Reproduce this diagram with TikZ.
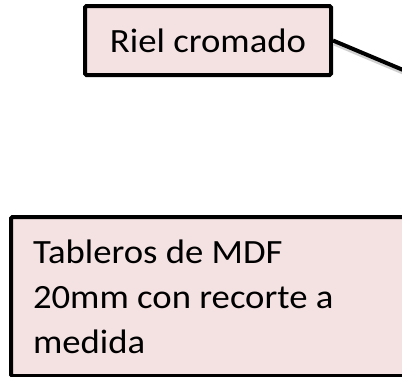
\documentclass[tikz,border=0pt]{standalone}
\usepackage{fontspec}
\setmainfont{Carlito}[FakeStretch=1.08]
\definecolor{boxfill}{HTML}{F4E2E2}
\definecolor{shade}{HTML}{9A9A9A}
\begin{document}
\begin{tikzpicture}[x=1pt,y=-1pt,
  callout/.style={draw=black, line width=4pt, fill=boxfill, rounded corners=1.5pt, font=\fontsize{34}{45}\selectfont},
  leader/.style={draw=black, line width=4pt},
  leadershadow/.style={draw=shade, line width=4pt, opacity=0.45}]
\useasboundingbox (0,0) rectangle (402,376);
\node[callout, minimum width=246pt, minimum height=69pt, inner sep=0pt] (riel) at (208,40.5) {Riel cromado};
\node[callout, anchor=north west, minimum width=470pt, minimum height=159pt, text width=426pt, inner xsep=22pt, inner ysep=0pt, align=flush left] (tab) at (9,215) {Tableros de MDF\\20mm con recorte a\\medida};
\coordinate (end) at (450,89.7);
\draw[leadershadow] ([shift={(1pt,-3pt)}]riel.east) -- ([shift={(1pt,-3pt)}]end);
\draw[leader] (riel.east) -- (end);
\end{tikzpicture}
\end{document}
